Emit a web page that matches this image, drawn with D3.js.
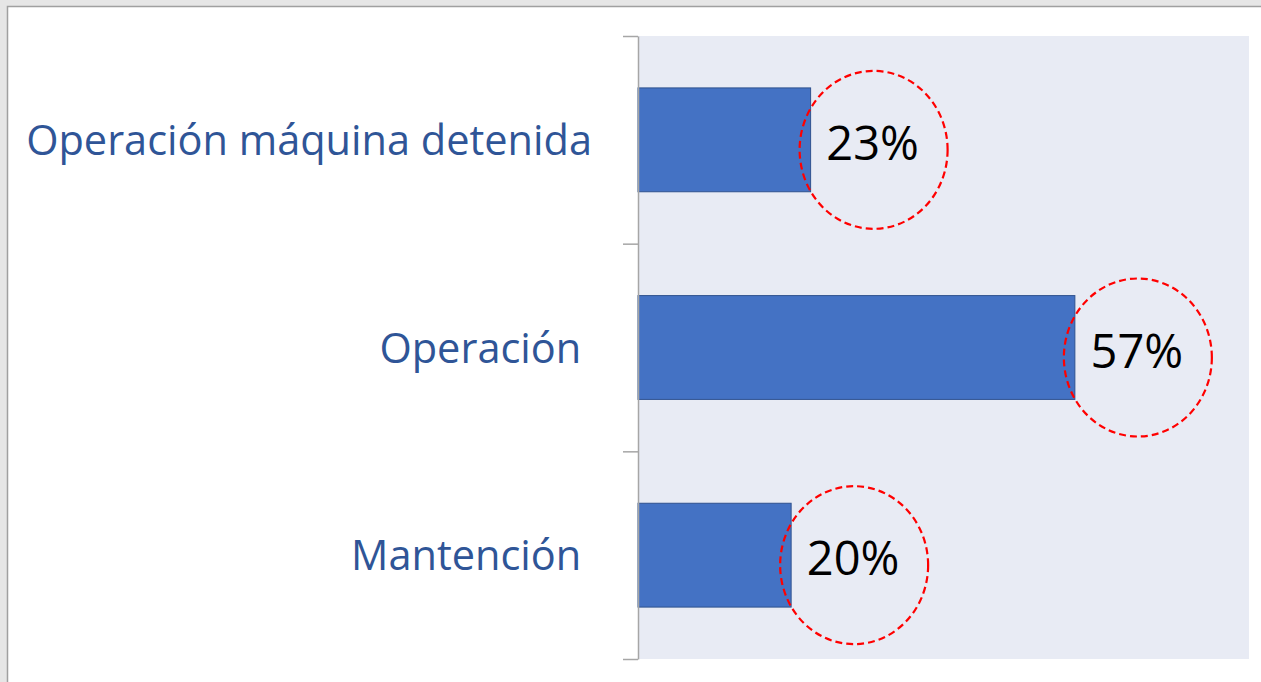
<!DOCTYPE html>
<html>
<head>
<meta charset="utf-8">
<script src="https://cdn.jsdelivr.net/npm/d3@7"></script>
<style>
  html, body { margin: 0; padding: 0; background: #e6e6e6; }
  #chart { display: block; }
</style>
</head>
<body>
<svg id="chart" width="1261" height="682"></svg>
<script>
(function() {

// chart values
var categories = ["Operación máquina detenida", "Operación ", "Mantención "];
var shares = [0.226, 0.572, 0.2005];
var xMax = 0.8;

var width = 1261;
var height = 682;

const svg = d3.select("#chart");

// white page with a thin grey edge top and left
svg.append("rect")
  .attr("x", 7).attr("y", 6)
  .attr("width", width - 7).attr("height", height - 6)
  .attr("fill", "white");
svg.append("path")
  .attr("d", "M7.5," + height + "V6.5H" + width)
  .attr("fill", "none")
  .attr("stroke", "#a0a0a0")
  .attr("stroke-width", 1.5);

// plot area
var left = 638, right = 1249, top = 36, bottom = 659;

svg.append("rect")
  .attr("x", left).attr("y", top)
  .attr("width", right - left).attr("height", bottom - top)
  .attr("fill", "#e8ebf4");

var x = d3.scaleLinear()
  .domain([0, xMax])
  .range([left, right]);

var y = d3.scaleBand()
  .domain(categories)
  .range([top, bottom])
  .paddingInner(0.5)
  .paddingOuter(0.25);

// band boundaries for the category axis ticks
var yEdge = d3.scaleLinear()
  .domain([0, categories.length])
  .range([top, bottom]);

// bars
svg.selectAll("rect.bar")
  .data(categories)
  .enter()
  .append("rect")
  .attr("class", "bar")
  .attr("x", x(0))
  .attr("y", function(d) { return y(d); })
  .attr("width", function(d, i) { return x(shares[i]) - x(0); })
  .attr("height", y.bandwidth())
  .attr("fill", "#4472c4")
  .attr("stroke", "#2f528f")
  .attr("stroke-width", 1);

// axis line with ticks at the band edges
var axis = svg.append("g")
  .attr("transform", "translate(" + left + ",0)")
  .call(d3.axisLeft(yEdge)
    .tickValues(d3.range(categories.length + 1))
    .tickFormat("")
    .tickSize(15)
    .tickSizeOuter(0));
axis.selectAll("path, line")
  .attr("stroke", "#a6a6a6")
  .attr("stroke-width", 1.5);

// category labels
svg.selectAll("text.cat")
  .data(categories)
  .enter()
  .append("text")
  .attr("class", "cat")
  .attr("x", 592)
  .attr("y", function(d) { return y(d) + y.bandwidth() / 2 - 1; })
  .attr("text-anchor", "end")
  .attr("dominant-baseline", "central")
  .style("white-space", "pre")
  .attr("font-family", "'Open Sans', sans-serif")
  .attr("font-size", "41.5px")
  .attr("fill", "#2f5597")
  .text(function(d) { return d; });

// dashed red circles round the value labels
svg.selectAll("ellipse.mark")
  .data(categories)
  .enter()
  .append("ellipse")
  .attr("class", "mark")
  .attr("cx", function(d, i) { return x(shares[i]) + 63; })
  .attr("cy", function(d) { return y(d) + y.bandwidth() / 2 + 10; })
  .attr("rx", 74)
  .attr("ry", 79)
  .attr("fill", "none")
  .attr("stroke", "#ff0000")
  .attr("stroke-width", 2.2)
  .attr("stroke-dasharray", "7,4");

// value labels
svg.selectAll("text.val")
  .data(categories)
  .enter()
  .append("text")
  .attr("class", "val")
  .attr("x", function(d, i) { return x(shares[i]) + 62; })
  .attr("y", function(d) { return y(d) + y.bandwidth() / 2 + 2; })
  .attr("text-anchor", "middle")
  .attr("dominant-baseline", "central")
  .attr("font-family", "'Open Sans', sans-serif")
  .attr("font-size", "47px")
  .attr("fill", "black")
  .text(function(d, i) { return d3.format(".0%")(shares[i]); });

})();
</script>
</body>
</html>
